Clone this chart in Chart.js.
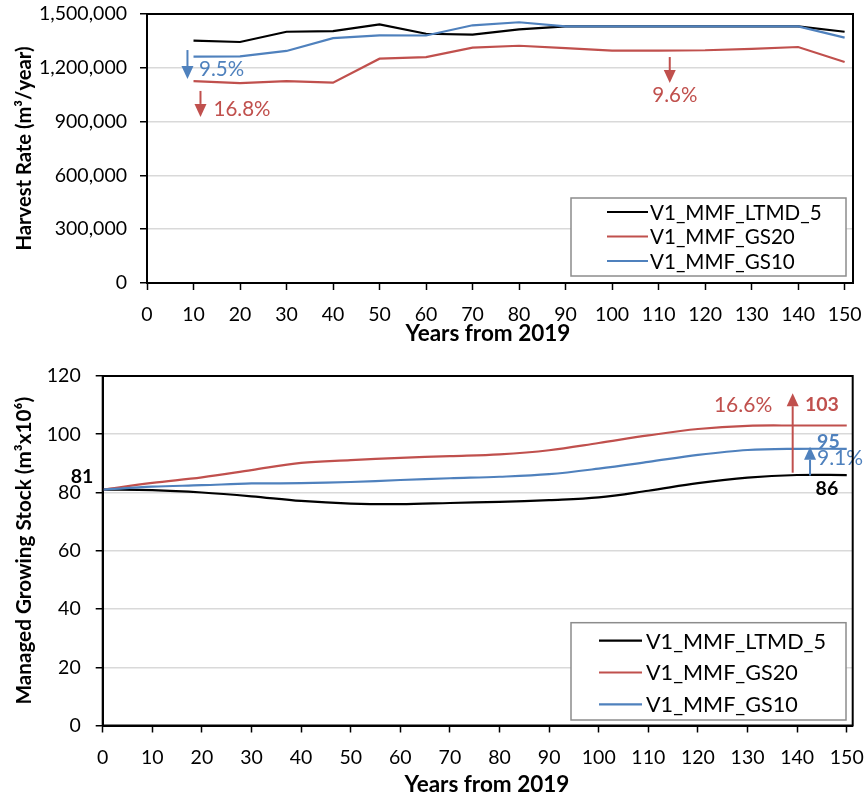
<!DOCTYPE html>
<html>
<head>
<meta charset="utf-8">
<script src="https://cdn.jsdelivr.net/npm/chart.js@4.4.1/dist/chart.umd.min.js"></script>
<style>
  html, body { margin: 0; padding: 0; background: #fff; }
  #wrap { position: relative; width: 864px; height: 799px; }
  canvas { position: absolute; left: 0; }
</style>
</head>
<body>
<div id="wrap">
  <canvas id="harvest" width="864" height="350" style="top:0"></canvas>
  <canvas id="stock" width="864" height="449" style="top:350px"></canvas>
</div>
<script>
// ---- data ----
const seriesNames = ['V1_MMF_LTMD_5', 'V1_MMF_GS20', 'V1_MMF_GS10'];

const harvestYears = [10, 20, 30, 40, 50, 60, 70, 80, 90, 100, 110, 120, 130, 140, 150];
const harvestLTMD5 = [1351000, 1344000, 1401000, 1405000, 1442000, 1390000, 1385000, 1414000, 1431000, 1431000, 1431000, 1431000, 1431000, 1431000, 1401000];
const harvestGS20  = [1126000, 1115000, 1126000, 1117000, 1251000, 1260000, 1312000, 1323000, 1310000, 1296000, 1296000, 1298000, 1306000, 1316000, 1232000];
const harvestGS10  = [1262000, 1264000, 1294000, 1365000, 1381000, 1380000, 1437000, 1454000, 1431000, 1431000, 1431000, 1431000, 1431000, 1431000, 1368000];

const stockYears = [0, 10, 20, 30, 40, 50, 60, 70, 80, 90, 100, 110, 120, 130, 140, 150];
const stockLTMD5 = [81, 80.8, 80.0, 78.7, 77.1, 76.2, 76.0, 76.4, 76.8, 77.4, 78.3, 80.6, 83.2, 85.1, 86, 86];
const stockGS20  = [81, 83.3, 85.2, 87.7, 90.2, 91.1, 91.9, 92.5, 93.1, 94.5, 97.0, 99.6, 101.8, 102.9, 103, 103];
const stockGS10  = [81, 82.0, 82.5, 83.1, 83.2, 83.6, 84.3, 84.9, 85.4, 86.3, 88.2, 90.5, 92.9, 94.6, 95, 95];

const yearTicks    = [0, 10, 20, 30, 40, 50, 60, 70, 80, 90, 100, 110, 120, 130, 140, 150];
const harvestTicks = [0, 300000, 600000, 900000, 1200000, 1500000];
const stockTicks   = [0, 20, 40, 60, 80, 100, 120];

// ---- styling ----
const FONT = 'Lato, "Open Sans", sans-serif';
const COLORS = ['#000000', '#C0504D', '#4F81BD'];

function makeDatasets(xs, seriesList, tension) {
  return seriesList.map((vals, i) => ({
    label: seriesNames[i],
    data: xs.map((x, j) => ({ x: x, y: vals[j] })),
    borderColor: COLORS[i],
    backgroundColor: COLORS[i],
    borderWidth: 2.2,
    pointRadius: 0,
    pointHoverRadius: 0,
    fill: false,
    tension: tension,
    order: seriesList.length - i   // later series are painted on top
  }));
}

// keep the chart area exactly where the layout padding puts it
function noOverflow(s) {
  s.paddingLeft = 0; s.paddingRight = 0; s.paddingTop = 0; s.paddingBottom = 0;
}

function xAxis(max, height, labelPad) {
  return {
    type: 'linear', min: 0, max: max,
    afterBuildTicks: s => { s.ticks = yearTicks.map(v => ({ value: v })); },
    afterFit: s => { s.height = height; noOverflow(s); },
    border: { display: true, color: '#000', width: 2 },
    grid: { drawOnChartArea: false, drawTicks: true, tickLength: 7, tickColor: '#000', tickWidth: 1.5 },
    ticks: { color: '#000', font: { family: FONT, size: 19.5 }, padding: labelPad, maxRotation: 0, autoSkip: false,
             callback: v => String(v) },
    title: { display: false }
  };
}

function yAxis(max, tickList, width, labelPad, titleText, titleSize, fmt) {
  return {
    type: 'linear', min: 0, max: max,
    afterBuildTicks: s => { s.ticks = tickList.map(v => ({ value: v })); },
    afterFit: s => { s.width = width; noOverflow(s); },
    border: { display: true, color: '#000', width: 2 },
    grid: { color: '#d9d9d9', lineWidth: 1.5, drawTicks: true, tickLength: 7, tickColor: '#000', tickWidth: 1.5 },
    ticks: { color: '#000', font: { family: FONT, size: 19.5 }, padding: labelPad, callback: fmt },
    title: { display: true, text: titleText, color: '#000',
             font: { family: FONT, size: titleSize, weight: 'bold' }, padding: { top: 12, bottom: 0 } }
  };
}

// Black frame around the plot area
const framePlugin = {
  id: 'frame',
  afterDraw(chart) {
    const { ctx, chartArea: a } = chart;
    ctx.save();
    ctx.strokeStyle = '#000';
    ctx.lineWidth = 2;
    ctx.strokeRect(a.left, a.top, a.right - a.left, a.bottom - a.top);
    ctx.restore();
  }
};

// Horizontal axis caption
const xCaptionPlugin = {
  id: 'xCaption',
  afterDraw(chart, args, o) {
    const { ctx } = chart;
    ctx.save();
    ctx.font = 'bold ' + o.size + 'px ' + FONT;
    ctx.fillStyle = '#000';
    ctx.textAlign = 'center';
    ctx.textBaseline = 'middle';
    ctx.fillText(o.text, o.x, o.y);
    ctx.restore();
  }
};

// Arrows and text notes placed in data coordinates
const notesPlugin = {
  id: 'notes',
  afterDatasetsDraw(chart, args, opts) {
    const { ctx } = chart;
    const xs = chart.scales.x, ys = chart.scales.y;
    ctx.save();
    (opts.arrows || []).forEach(a => {
      const px = xs.getPixelForValue(a.x);
      const y0 = ys.getPixelForValue(a.from);
      const y1 = ys.getPixelForValue(a.to);
      const dir = y1 > y0 ? 1 : -1;
      const head = 13, half = 6;
      ctx.strokeStyle = a.color;
      ctx.fillStyle = a.color;
      ctx.lineWidth = 2;
      ctx.beginPath();
      ctx.moveTo(px, y0);
      ctx.lineTo(px, y1 - dir * head);
      ctx.stroke();
      ctx.beginPath();
      ctx.moveTo(px, y1);
      ctx.lineTo(px - half, y1 - dir * head);
      ctx.lineTo(px + half, y1 - dir * head);
      ctx.closePath();
      ctx.fill();
    });
    (opts.labels || []).forEach(l => {
      ctx.font = (l.bold ? 'bold ' : '') + l.size + 'px ' + FONT;
      ctx.fillStyle = l.color;
      ctx.textAlign = l.align || 'left';
      ctx.textBaseline = 'middle';
      ctx.fillText(l.text, xs.getPixelForValue(l.x), ys.getPixelForValue(l.y));
    });
    ctx.restore();
  }
};

// Boxed legend inside the plot area
const boxLegendPlugin = {
  id: 'boxLegend',
  afterDraw(chart, args, o) {
    const { ctx } = chart;
    ctx.save();
    ctx.fillStyle = '#fff';
    ctx.fillRect(o.left, o.top, o.width, o.height);
    ctx.strokeStyle = '#8c8c8c';
    ctx.lineWidth = 1.5;
    ctx.strokeRect(o.left, o.top, o.width, o.height);
    ctx.font = o.size + 'px ' + FONT;
    ctx.textBaseline = 'middle';
    ctx.textAlign = 'left';
    chart.data.datasets.forEach((ds, i) => {
      const y = o.firstRow + i * o.rowGap;
      ctx.strokeStyle = ds.borderColor;
      ctx.lineWidth = 2.2;
      ctx.beginPath();
      ctx.moveTo(o.lineStart, y);
      ctx.lineTo(o.lineEnd, y);
      ctx.stroke();
      ctx.fillStyle = '#000';
      ctx.fillText(ds.label, o.textX, y + 1);
    });
    ctx.restore();
  }
};

Chart.register(framePlugin, xCaptionPlugin, notesPlugin, boxLegendPlugin);

const baseOpts = {
  responsive: false,
  animation: false,
  events: []
};

// ---- harvest rate ----
new Chart(document.getElementById('harvest'), {
  type: 'line',
  data: { datasets: makeDatasets(harvestYears, [harvestLTMD5, harvestGS20, harvestGS10], 0) },
  options: Object.assign({}, baseOpts, {
    layout: { padding: { top: 14, right: 11, left: 0, bottom: 0 } },
    scales: {
      x: xAxis(151.8, 67, 13),
      y: yAxis(1500000, harvestTicks, 147, 13, 'Harvest Rate (m³/year)', 20.2, v => v.toLocaleString('en-US'))
    },
    plugins: {
      legend: { display: false },
      tooltip: { enabled: false },
      xCaption: { text: 'Years from 2019', x: 488, y: 334, size: 22.5 },
      notes: {
        arrows: [
          { x: 8.7, from: 1299000, to: 1137000, color: '#4F81BD' },
          { x: 11.5, from: 1071000, to: 926000, color: '#C0504D' },
          { x: 112.4, from: 1260000, to: 1115000, color: '#C0504D' }
        ],
        labels: [
          { x: 11.2, y: 1193000, text: '9.5%', color: '#4F81BD', size: 20.5 },
          { x: 14.3, y: 970000, text: '16.8%', color: '#C0504D', size: 20.5 },
          { x: 113.5, y: 1048000, text: '9.6%', color: '#C0504D', size: 20.5, align: 'center' }
        ]
      },
      boxLegend: { left: 571, top: 198, width: 275, height: 78, firstRow: 212, rowGap: 24.5,
                   lineStart: 607, lineEnd: 648, textX: 650, size: 20.6 }
    }
  })
});

// ---- managed growing stock ----
const last = arr => arr[arr.length - 1];
new Chart(document.getElementById('stock'), {
  type: 'line',
  data: { datasets: makeDatasets(stockYears, [stockLTMD5, stockGS20, stockGS10], 0.35) },
  options: Object.assign({}, baseOpts, {
    layout: { padding: { top: 26, right: 11.3, left: 0, bottom: 0 } },
    scales: {
      x: xAxis(151.2, 73.5, 14),
      y: yAxis(120, stockTicks, 102.7, 15, 'Managed Growing Stock (m³x10⁶)', 20.7, v => String(v))
    },
    plugins: {
      legend: { display: false },
      tooltip: { enabled: false },
      xCaption: { text: 'Years from 2019', x: 487, y: 434.5, size: 22.5 },
      notes: {
        arrows: [
          { x: 139.1, from: 86.8, to: 114.1, color: '#C0504D' },
          { x: 142.6, from: 85.8, to: 95.7, color: '#4F81BD' }
        ],
        labels: [
          { x: -1.9, y: 85.3, text: String(stockLTMD5[0]), color: '#000', size: 19.5, bold: true, align: 'right' },
          { x: 129.1, y: 110.0, text: '16.6%', color: '#C0504D', size: 21, align: 'center' },
          { x: 145.0, y: 110.0, text: String(last(stockGS20)), color: '#C0504D', size: 19.5, bold: true, align: 'center' },
          { x: 146.3, y: 97.4, text: String(last(stockGS10)), color: '#4F81BD', size: 19.5, bold: true, align: 'center' },
          { x: 144.0, y: 91.9, text: '9.1%', color: '#4F81BD', size: 21 },
          { x: 146.0, y: 81.4, text: String(last(stockLTMD5)), color: '#000', size: 19.5, bold: true, align: 'center' }
        ]
      },
      boxLegend: { left: 571, top: 272.7, width: 275, height: 97.3, firstRow: 290.7, rowGap: 31.8,
                   lineStart: 599, lineEnd: 642, textX: 646, size: 21.6 }
    }
  })
});
</script>
</body>
</html>
